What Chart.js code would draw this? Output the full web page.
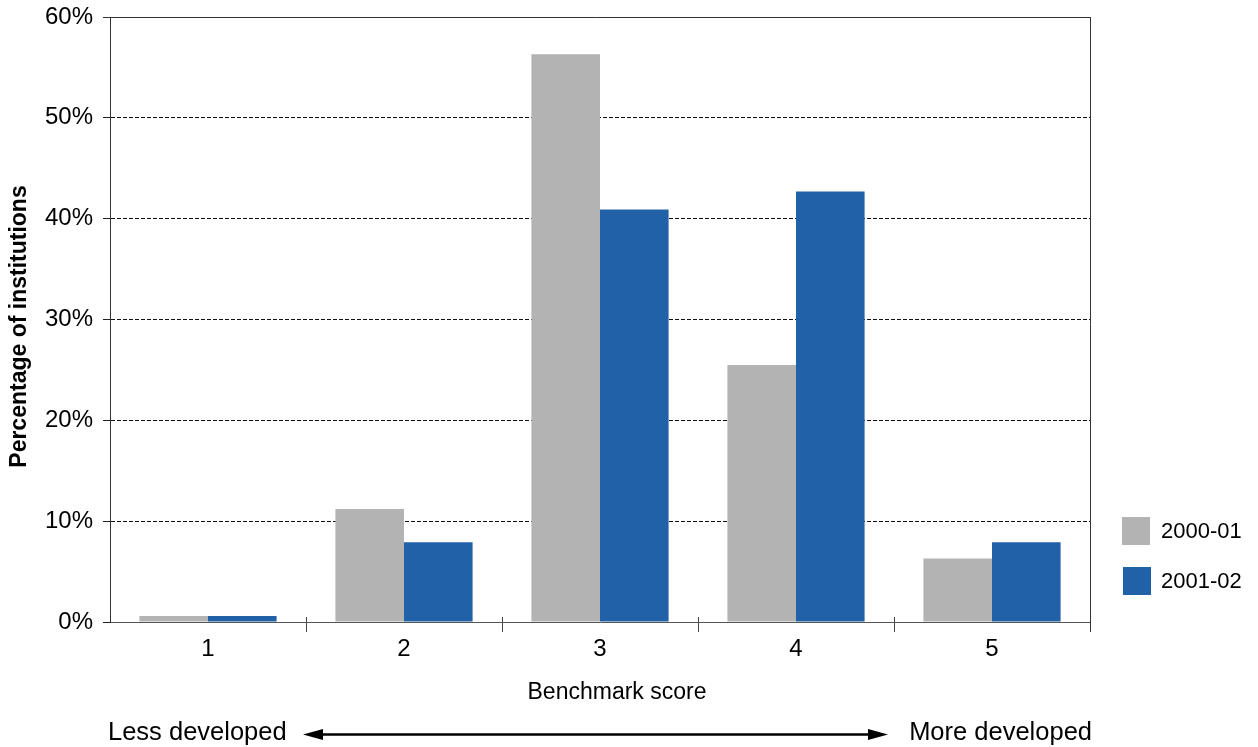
<!DOCTYPE html>
<html>
<head>
<meta charset="utf-8">
<title>Benchmark score distribution</title>
<script src="https://cdn.jsdelivr.net/npm/chart.js@4/dist/chart.umd.min.js"></script>
<style>
  html, body { margin: 0; padding: 0; background: #ffffff; }
  #wrap { width: 1258px; height: 747px; position: relative; }
</style>
</head>
<body>
<div id="wrap"><canvas id="chart" width="1258" height="747"></canvas></div>
<script>
// Benchmark score categories (1 = less developed, 5 = more developed)
const categories = ['1', '2', '3', '4', '5'];
// Share of institutions at each score, per academic year (%)
const series2000 = [0.6, 11.2, 56.3, 25.5, 6.3];
const series2001 = [0.6, 7.9, 40.9, 42.7, 7.9];
const seriesNames = ['2000-01', '2001-02'];
// Percentage axis ticks
const yTicks = [0, 10, 20, 30, 40, 50, 60];

const FONT = '"Liberation Sans", Arial, Helvetica, sans-serif';
const GREY = '#b3b3b3';
const BLUE = '#2161a8';

// Frame, titles, legend and the development arrow
const decor = {
  id: 'decor',
  afterDraw(chart) {
    const { ctx, chartArea: a, scales: { x, y } } = chart;
    ctx.save();

    // top and right frame lines
    ctx.strokeStyle = '#333333';
    ctx.lineWidth = 1;
    ctx.setLineDash([]);
    const yTop = Math.round(y.getPixelForValue(yTicks[yTicks.length - 1])) + 0.5;
    ctx.beginPath();
    ctx.moveTo(a.left - 7, yTop);
    ctx.lineTo(a.right + 0.5, yTop);
    ctx.moveTo(a.right + 0.5, a.top);
    ctx.lineTo(a.right + 0.5, a.bottom + 10);
    ctx.stroke();

    // category separator stubs poking above the axis line
    ctx.strokeStyle = '#444444';
    ctx.beginPath();
    for (let i = 1; i < categories.length; i++) {
      const bx = Math.round((x.getPixelForValue(i - 1) + x.getPixelForValue(i)) / 2) + 0.5;
      ctx.moveTo(bx, a.bottom - 5);
      ctx.lineTo(bx, a.bottom);
    }
    ctx.stroke();

    // y-axis title
    ctx.fillStyle = '#000000';
    ctx.save();
    ctx.translate(26, (a.top + a.bottom) / 2 + 7);
    ctx.rotate(-Math.PI / 2);
    ctx.font = 'bold 23px ' + FONT;
    ctx.textAlign = 'center';
    ctx.textBaseline = 'alphabetic';
    ctx.fillText('Percentage of institutions', 0, 0);
    ctx.restore();

    // x-axis title
    ctx.font = '23px ' + FONT;
    ctx.textAlign = 'center';
    ctx.textBaseline = 'alphabetic';
    ctx.fillText('Benchmark score', 617, 699);

    // development direction
    ctx.font = '25.5px ' + FONT;
    ctx.textAlign = 'left';
    ctx.fillText('Less developed', a.left - 2, 740);
    ctx.textAlign = 'right';
    ctx.fillText('More developed', a.right + 2, 740);

    const ay = 734.5, x0 = 303, x1 = 888, hl = 20, hw = 5.5;
    ctx.strokeStyle = '#000000';
    ctx.lineWidth = 2.5;
    ctx.beginPath();
    ctx.moveTo(x0 + hl - 2, ay);
    ctx.lineTo(x1 - hl + 2, ay);
    ctx.stroke();
    ctx.beginPath();
    ctx.moveTo(x0, ay);
    ctx.lineTo(x0 + hl, ay - hw);
    ctx.lineTo(x0 + hl, ay + hw);
    ctx.closePath();
    ctx.moveTo(x1, ay);
    ctx.lineTo(x1 - hl, ay - hw);
    ctx.lineTo(x1 - hl, ay + hw);
    ctx.closePath();
    ctx.fill();

    // legend
    ctx.font = '22px ' + FONT;
    ctx.textAlign = 'left';
    ctx.textBaseline = 'middle';
    chart.data.datasets.forEach((ds, i) => {
      const top = 517 + i * 50;
      ctx.fillStyle = ds.backgroundColor;
      ctx.fillRect(1122 + i, top, 28, 28);
      ctx.fillStyle = '#000000';
      ctx.fillText(ds.label, 1161, top + 15);
    });

    ctx.restore();
  }
};

new Chart(document.getElementById('chart'), {
  type: 'bar',
  data: {
    labels: categories,
    datasets: [
      { label: seriesNames[0], data: series2000, backgroundColor: GREY, borderWidth: 0 },
      { label: seriesNames[1], data: series2001, backgroundColor: BLUE, borderWidth: 0 }
    ]
  },
  options: {
    responsive: false,
    animation: false,
    devicePixelRatio: 1,
    categoryPercentage: 0.7,
    barPercentage: 1.0,
    layout: { padding: { left: 0, right: 168, top: 17, bottom: 0 } },
    plugins: { legend: { display: false }, tooltip: { enabled: false } },
    scales: {
      x: {
        afterFit(scale) { scale.height = 125; scale.paddingLeft = 0; scale.paddingRight = 0; },
        grid: {
          offset: true,
          drawOnChartArea: false,
          drawTicks: true,
          tickLength: 10,
          color: (c) => (c.index === 0 ? 'rgba(0,0,0,0)' : '#444444'),
          lineWidth: 1
        },
        border: { display: true, color: '#555555', width: 1 },
        ticks: {
          color: '#000000',
          font: { family: FONT, size: 24 },
          padding: 3
        }
      },
      y: {
        min: yTicks[0],
        max: yTicks[yTicks.length - 1],
        afterFit(scale) { scale.width = 110; scale.paddingTop = 0; scale.paddingBottom = 0; },
        afterBuildTicks(scale) { scale.ticks = yTicks.map(v => ({ value: v })); },
        grid: {
          drawOnChartArea: true,
          drawTicks: true,
          tickLength: 7,
          color: (c) => {
            const v = c.tick ? c.tick.value : null;
            return (v === yTicks[0] || v === yTicks[yTicks.length - 1]) ? 'rgba(0,0,0,0)' : '#111111';
          },
          tickColor: '#222222',
          tickBorderDash: [1, 0],
          lineWidth: 1
        },
        border: { display: true, color: '#333333', width: 1, dash: [4, 2] },
        ticks: {
          color: '#000000',
          font: { family: FONT, size: 24 },
          padding: 10,
          callback: (v) => v + '%'
        }
      }
    }
  },
  plugins: [decor]
});
</script>
</body>
</html>
